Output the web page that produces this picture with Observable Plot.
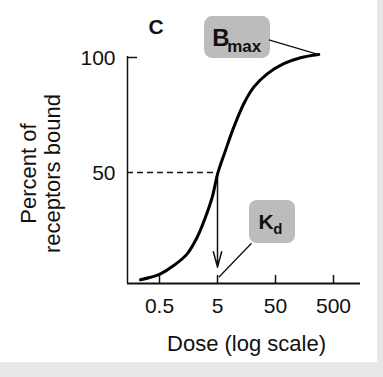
<!DOCTYPE html>
<html><head><meta charset="utf-8">
<script src="https://cdn.jsdelivr.net/npm/d3@7"></script>
<script src="https://cdn.jsdelivr.net/npm/@observablehq/plot@0.6"></script>
<style>
html,body{margin:0;padding:0;background:#e8e8e8;}
#chart{width:377px;height:362px;background:#fff;}
svg{display:block}
</style></head><body><div id="chart"></div>
<script>
// Dose-response curve (dose on log scale, percent of receptors bound)
const dose = [0.235, 0.35, 0.52, 0.88, 1.5, 2.23, 3.1, 4.05, 5.1, 6.87, 9.55, 14.2, 21.1, 36, 69.5, 135, 279];
const percentBound = [3.3, 4.4, 5.9, 9.5, 14.6, 21.8, 30.5, 39.2, 50, 59.6, 69.7, 79.9, 87.1, 92.9, 97.3, 99.9, 101.3];
const xTicks = [0.5, 5, 50, 500];
const xTickLabels = ["0.5", "5", "50", "500"];
const yTicks = [50, 100];
const yTickLabels = ["50", "100"];
const kd = 5;
const halfBound = 50;
const panelLabel = "C";
const xLabel = "Dose (log scale)";
const yLabel = "Percent of\nreceptors bound";

const curve = dose.map((d, i) => ({dose: d, pct: percentBound[i]}));
const xMin = 0.1403, xMax = 1461, yMin = 1.7;
const font = "Liberation Sans, Arial, Helvetica, sans-serif";

const chart = Plot.plot({
  width: 377, height: 362,
  marginLeft: 127, marginRight: 17, marginTop: 57, marginBottom: 79,
  style: {fontFamily: font, fontSize: "20px", color: "#111", background: "white", overflow: "visible"},
  x: {type: "log", domain: [xMin, xMax], axis: null},
  y: {domain: [yMin, 100], axis: null},
  marks: [
    // annotation boxes
    Plot.rect([{x1: 2.99, x2: 41, y1: 99.6, y2: 117.8}], {x1: "x1", x2: "x2", y1: "y1", y2: "y2", fill: "#bcbcbc", rx: 8}),
    Plot.rect([{x1: 17.8, x2: 110.6, y1: 19.1, y2: 37.8}], {x1: "x1", x2: "x2", y1: "y1", y2: "y2", fill: "#bcbcbc", rx: 8}),
    // axes lines and ticks
    Plot.ruleY([yMin], {x1: xMin, x2: xMax, stroke: "#111", strokeWidth: 2}),
    Plot.ruleX([xMin], {y1: yMin, y2: 100.4, stroke: "#111", strokeWidth: 1.5}),
    Plot.ruleY([100], {x1: xMin, x2: 0.209, stroke: "#111", strokeWidth: 1.5}),
    Plot.ruleX(xTicks, {y1: yMin, y2: 5.2, stroke: "#111", strokeWidth: 1.5}),
    // tick labels
    Plot.text(xTicks, {x: (d) => d, frameAnchor: "bottom", lineAnchor: "top", dy: 15, text: (d, i) => xTickLabels[i], fontSize: 21}),
    Plot.text(yTicks, {y: (d) => d, frameAnchor: "left", textAnchor: "end", dx: -12, dy: 1, text: (d, i) => yTickLabels[i], fontSize: 21}),
    // dashed half line
    Plot.ruleY([halfBound], {x1: xMin, x2: 5.1, stroke: "#111", strokeWidth: 1.5, strokeDasharray: "6,4"}),
    // arrow down to Kd
    Plot.arrow([{}], {x1: kd, x2: kd, y1: halfBound, y2: 8.8, stroke: "#111", strokeWidth: 1.5, headLength: 16, headAngle: 30}),
    // curve
    Plot.line(curve, {x: "dose", y: "pct", curve: "catmull-rom", stroke: "#000", strokeWidth: 3}),
    // leader lines
    Plot.link([{}], {x1: 38.4, y1: 107.7, x2: 279, y2: 101.3, stroke: "#111", strokeWidth: 1.3}),
    Plot.link([{}], {x1: 19.3, y1: 19.2, x2: 5.26, y2: 4.4, stroke: "#111", strokeWidth: 1.3}),
    // labels
    Plot.text([panelLabel], {x: 0.435, y: 110.4, text: (d) => d, fontWeight: "bold", fontSize: 21, lineAnchor: "bottom", textAnchor: "middle"}),
    Plot.text(["B"], {x: 4.05, y: 105.2, text: (d) => d, fontWeight: "bold", fontSize: 24, lineAnchor: "bottom", textAnchor: "start"}),
    Plot.text(["max"], {x: 7.35, y: 102.3, text: (d) => d, fontWeight: "bold", fontSize: 17, lineAnchor: "bottom", textAnchor: "start"}),
    Plot.text(["K"], {x: 25.5, y: 25.5, text: (d) => d, fontWeight: "bold", fontSize: 21, lineAnchor: "bottom", textAnchor: "start"}),
    Plot.text(["d"], {x: 45.6, y: 23.3, text: (d) => d, fontWeight: "bold", fontSize: 15, lineAnchor: "bottom", textAnchor: "start"}),
    Plot.text([xLabel], {frameAnchor: "bottom", text: (d) => d, dy: 67, dx: 2.5, fontSize: 22}),
    Plot.text([yLabel], {frameAnchor: "left", y: 49.5, text: (d) => d, dx: -87, rotate: -90, textAnchor: "middle", fontSize: 22, lineHeight: 1.09})
  ]
});
document.getElementById("chart").appendChild(chart);
</script></body></html>
